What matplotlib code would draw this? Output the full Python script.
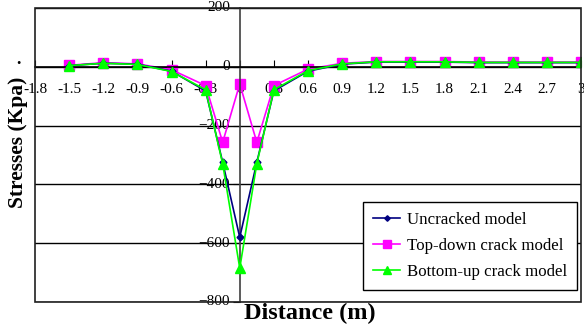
import matplotlib
matplotlib.use("Agg")
import matplotlib.pyplot as plt
from matplotlib.patches import Rectangle

plt.rcParams['font.family'] = ['Liberation Serif', 'DejaVu Serif']

distance = [-1.5, -1.2, -0.9, -0.6, -0.3, -0.15, 0.0, 0.15, 0.3, 0.6, 0.9, 1.2, 1.5, 1.8, 2.1, 2.4, 2.7, 3.0]
uncracked = [4, 12, 9, -15, -82, -325, -580, -325, -82, -15, 9, 16, 16, 16, 14, 14, 14, 14]
top_down = [5, 14, 10, -10, -64, -257, -58, -257, -64, -8, 12, 18, 18, 18, 16, 16, 16, 16]
bottom_up = [4, 12, 8, -16, -78, -330, -685, -330, -78, -13, 10, 17, 17, 17, 15, 15, 15, 15]
x_ticks = [-1.8, -1.5, -1.2, -0.9, -0.6, -0.3, 0, 0.3, 0.6, 0.9, 1.2, 1.5, 1.8, 2.1, 2.4, 2.7, 3]
y_ticks = [-800, -600, -400, -200, 0, 200]

fig = plt.figure(figsize=(5.84, 3.30), dpi=100)
ax = fig.add_axes([35/584, 28/330, 546/584, 294/330])
ax.set_xlim(-1.8, 3.0)
ax.set_ylim(-800, 200)

for yv in y_ticks:
    ax.axhline(yv, color='black', lw=1.0, zorder=1)

ax.plot(distance, uncracked, color='#000080', marker='D', ms=3.5, lw=1.2,
        label='Uncracked model', zorder=3)
ax.plot(distance, top_down, color='#ff00ff', marker='s', ms=7, lw=1.2,
        label='Top-down crack model', zorder=2)
ax.plot(distance, bottom_up, color='#00ff00', marker='^', ms=6.5, lw=1.2,
        label='Bottom-up crack model', zorder=4)

for s in ['top', 'right']:
    ax.spines[s].set_visible(False)
ax.spines['left'].set_position(('data', 0))
ax.spines['bottom'].set_position(('data', 0))
ax.spines['left'].set_color('#404040')
ax.spines['left'].set_linewidth(1.2)
ax.spines['bottom'].set_linewidth(1.2)
ax.add_patch(Rectangle((0, 0), 1, 1, transform=ax.transAxes, fill=False,
                       lw=1.2, edgecolor='#202020', zorder=5, clip_on=False))

ax.set_xticks(x_ticks)
ax.set_xticklabels([f"{v:g}" for v in x_ticks])
ax.set_yticks(y_ticks)
ax.tick_params(axis='x', direction='in', length=5, pad=12, labelsize=11)
ax.tick_params(axis='y', direction='out', length=5, pad=2, labelsize=11)
for lab in ax.get_yticklabels():
    lab.set_verticalalignment('center')

fig.text(310/584, 1 - 313/330, 'Distance (m)', ha='center', va='center',
         fontsize=17.5, fontweight='bold')
fig.text(18/584, 1 - 142/330, 'Stresses (Kpa)', ha='center', va='center',
         rotation=90, fontsize=15.5, fontweight='bold')
fig.text(18/584, 1 - 60/330, '.', ha='center', va='center', fontsize=13, fontweight='bold')

leg = ax.legend(loc='lower right', bbox_to_anchor=(0.993, 0.041), borderaxespad=0,
                fontsize=12.2, frameon=True, fancybox=False, edgecolor='black',
                framealpha=1, handlelength=1.6, handletextpad=0.4,
                borderpad=0.6, labelspacing=0.58, markerscale=0.8)
leg.get_frame().set_linewidth(1.0)
leg.set_zorder(6)

fig.savefig('out.png', dpi=100)
